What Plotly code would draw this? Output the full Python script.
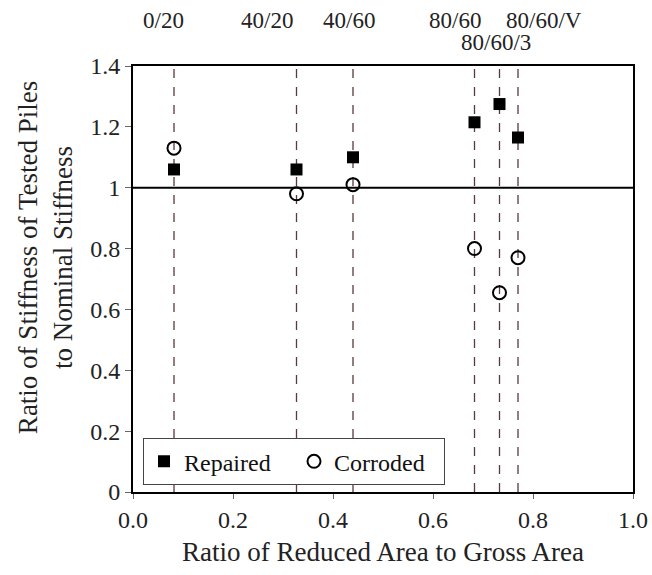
import plotly.graph_objects as go

specimens = ["0/20", "40/20", "40/60", "80/60", "80/60/3", "80/60/V"]
area_ratio = [0.082, 0.327, 0.44, 0.683, 0.733, 0.77]
repaired = [1.06, 1.06, 1.10, 1.215, 1.275, 1.165]
corroded = [1.13, 0.98, 1.01, 0.80, 0.655, 0.77]

# label placement (layout only)
label_x = [0.060, 0.267, 0.431, 0.643, 0.725, 0.822]
label_row = [0, 0, 0, 0, 1, 0]

FONT = "Liberation Serif, Times New Roman, serif"

fig = go.Figure()
fig.add_trace(go.Scatter(x=area_ratio, y=repaired, mode="markers", name="Repaired",
                         marker=dict(symbol="square", size=12, color="black")))
fig.add_trace(go.Scatter(x=area_ratio, y=corroded, mode="markers", name="Corroded",
                         marker=dict(symbol="circle-open", size=13, color="black",
                                     line=dict(width=2, color="black"))))

for xv in area_ratio:
    fig.add_shape(type="line", x0=xv, x1=xv, y0=0, y1=1, xref="x", yref="paper",
                  line=dict(color="#5a3a3a", width=1.3, dash="dash"), layer="below")
fig.add_shape(type="line", x0=0, x1=1, y0=1.0, y1=1.0, xref="paper", yref="y",
              line=dict(color="black", width=2), layer="below")

for name, lx, row in zip(specimens, label_x, label_row):
    fig.add_annotation(x=lx, y=1.106 if row == 0 else 1.054, xref="x", yref="paper",
                       text=name, showarrow=False, yanchor="middle",
                       font=dict(family=FONT, size=23, color="#222"))

# y-axis title (placed as rotated annotation to match the reference position)
fig.add_annotation(x=-0.176, y=0.549, xref="paper", yref="paper", textangle=-90,
                   text="Ratio of Stiffness of Tested Piles<br>to Nominal Stiffness",
                   showarrow=False, xanchor="center", yanchor="middle",
                   font=dict(family=FONT, size=27, color="#222"))

fig.update_layout(
    width=652, height=575,
    margin=dict(l=133, r=19, t=66, b=83),
    paper_bgcolor="white", plot_bgcolor="white",
    font=dict(family=FONT, size=24, color="#222"),
    showlegend=True,
    legend=dict(orientation="h", x=0.02, y=0.016, xanchor="left", yanchor="bottom",
                bordercolor="#444", borderwidth=1, bgcolor="white",
                font=dict(family=FONT, size=24, color="#111"),
                entrywidth=105, itemwidth=30, tracegroupgap=0),
)
fig.update_xaxes(range=[0, 1.0], dtick=0.2, tickformat=".1f", showgrid=False, zeroline=False,
                 showline=True, linecolor="black", linewidth=2, mirror=True, automargin=False,
                 ticks="outside", ticklen=5, tickcolor="#666", ticklabeloverflow="allow",
                 title=dict(text="Ratio of Reduced Area to Gross Area", font=dict(size=27), standoff=10),
                 tickfont=dict(size=24))
fig.update_yaxes(range=[0, 1.4], dtick=0.2, showgrid=False, zeroline=False,
                 showline=True, linecolor="black", linewidth=2, mirror=True, automargin=False,
                 ticks="outside", ticklen=6, tickcolor="#666",
                 tickfont=dict(size=24))

fig.write_html("out.html", config={"displayModeBar": False},
               post_script="document.body.style.margin='0px';document.body.style.overflow='hidden';")
